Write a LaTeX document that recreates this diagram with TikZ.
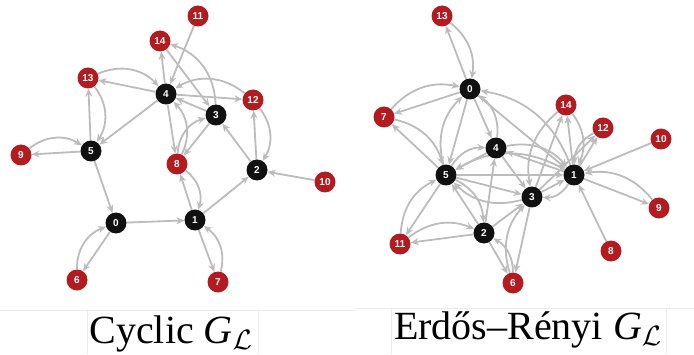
\RequirePackage{fix-cm}
\documentclass[tikz,border=0pt]{standalone}
\usepackage{fontspec}
\setmainfont{Liberation Serif}
\newfontfamily\vertfont{Liberation Sans}
\usetikzlibrary{arrows.meta,backgrounds}
\definecolor{vertred}{RGB}{178,28,32}
\definecolor{vertblack}{RGB}{17,17,17}
\definecolor{arcgray}{RGB}{188,188,188}
\tikzset{
  vert/.style={circle,minimum size=21pt,inner sep=0pt,text=white,font=\vertfont\bfseries\fontsize{10}{10}\selectfont},
  rvert/.style={vert,fill=vertred},
  bvert/.style={vert,fill=vertblack},
  arc/.style={draw=arcgray,line width=1.8pt,-{Stealth[length=8pt,width=7pt]}},
  caption/.style={anchor=base,font=\fontsize{40}{40}\selectfont}
}
\begin{document}
\begin{tikzpicture}[x=1pt,y=1pt]
\useasboundingbox (0,0) rectangle (694,354);
%% Cyclic graph
\foreach \n/\x/\y in {0/116/131,1/195/134,2/257/184,3/216/239,4/166/260,5/91/203}
  \node[bvert] (c\n) at (\x,\y) {\n};
\foreach \n/\x/\y in {6/77/74,7/218/72,8/177/190,9/21/199,10/325/172,11/198/338,12/253/254,13/88/276,14/160/313}
  \node[rvert] (c\n) at (\x,\y) {\n};
%% Erdos-Renyi graph
\foreach \n/\x/\y in {0/470/265,1/574/179,2/484/121,3/532/157,4/496/206,5/446/179}
  \node[bvert] (e\n) at (\x,\y) {\n};
\foreach \n/\x/\y in {6/513/71,7/384/237,8/611/103,9/659/146,10/661/215,11/400/110,12/603/226,13/442/338,14/566/249}
  \node[rvert] (e\n) at (\x,\y) {\n};
\begin{pgfonlayer}{background}
  %% cyclic edges
  \foreach \a/\b in {11/4,4/14,14/3,4/13,4/12,3/4,4/8,3/8,4/5,5/13,5/9,5/0,0/1,1/2,2/3,2/12,10/2,1/8,1/7,0/6}
    \draw[arc] (c\a) -- (c\b);
  \foreach \a/\b in {13/4,8/3,13/5,9/5,12/2,8/1,6/0}
    \draw[arc] (c\a) to[bend left=35] (c\b);
  \foreach \a/\b in {12/4,8/4,3/14,7/1}
    \draw[arc] (c\a) to[bend right=35] (c\b);
  %% random edges
  \foreach \a/\b in {0/13,0/7,5/7,0/5,0/4,0/1,1/4,4/5,5/1,5/3,4/3,3/1,3/14,1/14,3/12,1/12,10/1,1/9,8/1,5/11,2/11,2/5,2/4,2/3,2/6,3/6}
    \draw[arc] (e\a) -- (e\b);
  \foreach \a/\b in {13/0,7/0,7/5,5/0,4/1,5/4,3/5,1/3,14/1,11/5,11/2,5/2,6/3}
    \draw[arc] (e\a) to[bend left=30] (e\b);
  \foreach \a/\b in {4/0,1/0,1/5,14/3,12/1,9/1,6/2}
    \draw[arc] (e\a) to[bend right=30] (e\b);
\end{pgfonlayer}
%% captions
\draw[black!8] (0,44) -- (356,44) (87,44) -- (87,0) (258,44) -- (258,0);
\draw[black!8] (356,46) -- (694,46) (391,46) -- (391,0) (666,46) -- (666,0);
\node[caption] (cyccap) at (171,11) {Cyclic \textit{G}$_{\mathcal{L}}$};
\node[caption] (ercap) at (528,15) {Erdős–Rényi \textit{G}$_{\mathcal{L}}$};
\end{tikzpicture}
\end{document}
